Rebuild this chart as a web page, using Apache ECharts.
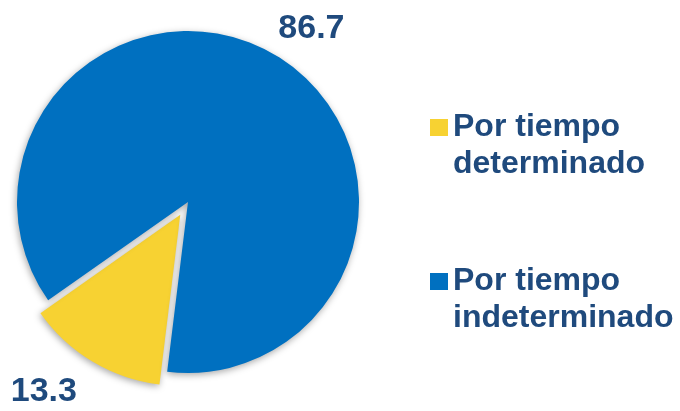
<!DOCTYPE html>
<html>
<head>
<meta charset="utf-8">
<script src="https://cdn.jsdelivr.net/npm/echarts@6/dist/echarts.min.js"></script>
<style>
html,body{margin:0;padding:0;background:#fff;}
#chart{width:680px;height:411px;}
</style>
</head>
<body>
<div id="chart"></div>
<script>
const categories = ['Por tiempo\ndeterminado', 'Por tiempo\nindeterminado'];
const values = [13.3, 86.7];
const colors = ['#F7D232', '#0070C0'];
const textColor = '#1F4A7D';

const chart = echarts.init(document.getElementById('chart'), null, {renderer: 'canvas'});
chart.setOption({
  animation: false,
  legend: {
    orient: 'vertical',
    left: 425,
    top: 67,
    itemWidth: 18,
    itemHeight: 17,
    itemGap: 43,
    icon: 'rect',
    selectedMode: false,
    formatter: name => '\n' + name,
    textStyle: {
      color: textColor,
      fontFamily: 'Liberation Sans',
      fontWeight: 'bold',
      fontSize: 32,
      lineHeight: 37
    },
    data: categories
  },
  series: [{
    type: 'pie',
    center: [188, 202],
    radius: 171,
    startAngle: 263,
    clockwise: true,
    selectedMode: 'single',
    selectedOffset: 15,
    label: {
      show: true,
      position: 'outside',
      color: textColor,
      fontFamily: 'Liberation Sans',
      fontWeight: 'bold',
      fontSize: 34,
      formatter: p => p.value.toFixed(1)
    },
    labelLine: {show: false, length: 30, length2: 0},
    labelLayout: p => p.dataIndex === 0 ? {dx: 5, dy: 4} : {dx: -18, dy: -1},
    itemStyle: {
      borderWidth: 0,
      shadowColor: 'rgba(0,0,0,0.35)',
      shadowBlur: 7,
      shadowOffsetX: -1,
      shadowOffsetY: 2
    },
    emphasis: {disabled: true},
    data: categories.map((c, i) => ({
      name: c,
      value: values[i],
      selected: i === 0,
      itemStyle: {color: colors[i]}
    }))
  }]
});
</script>
</body>
</html>
